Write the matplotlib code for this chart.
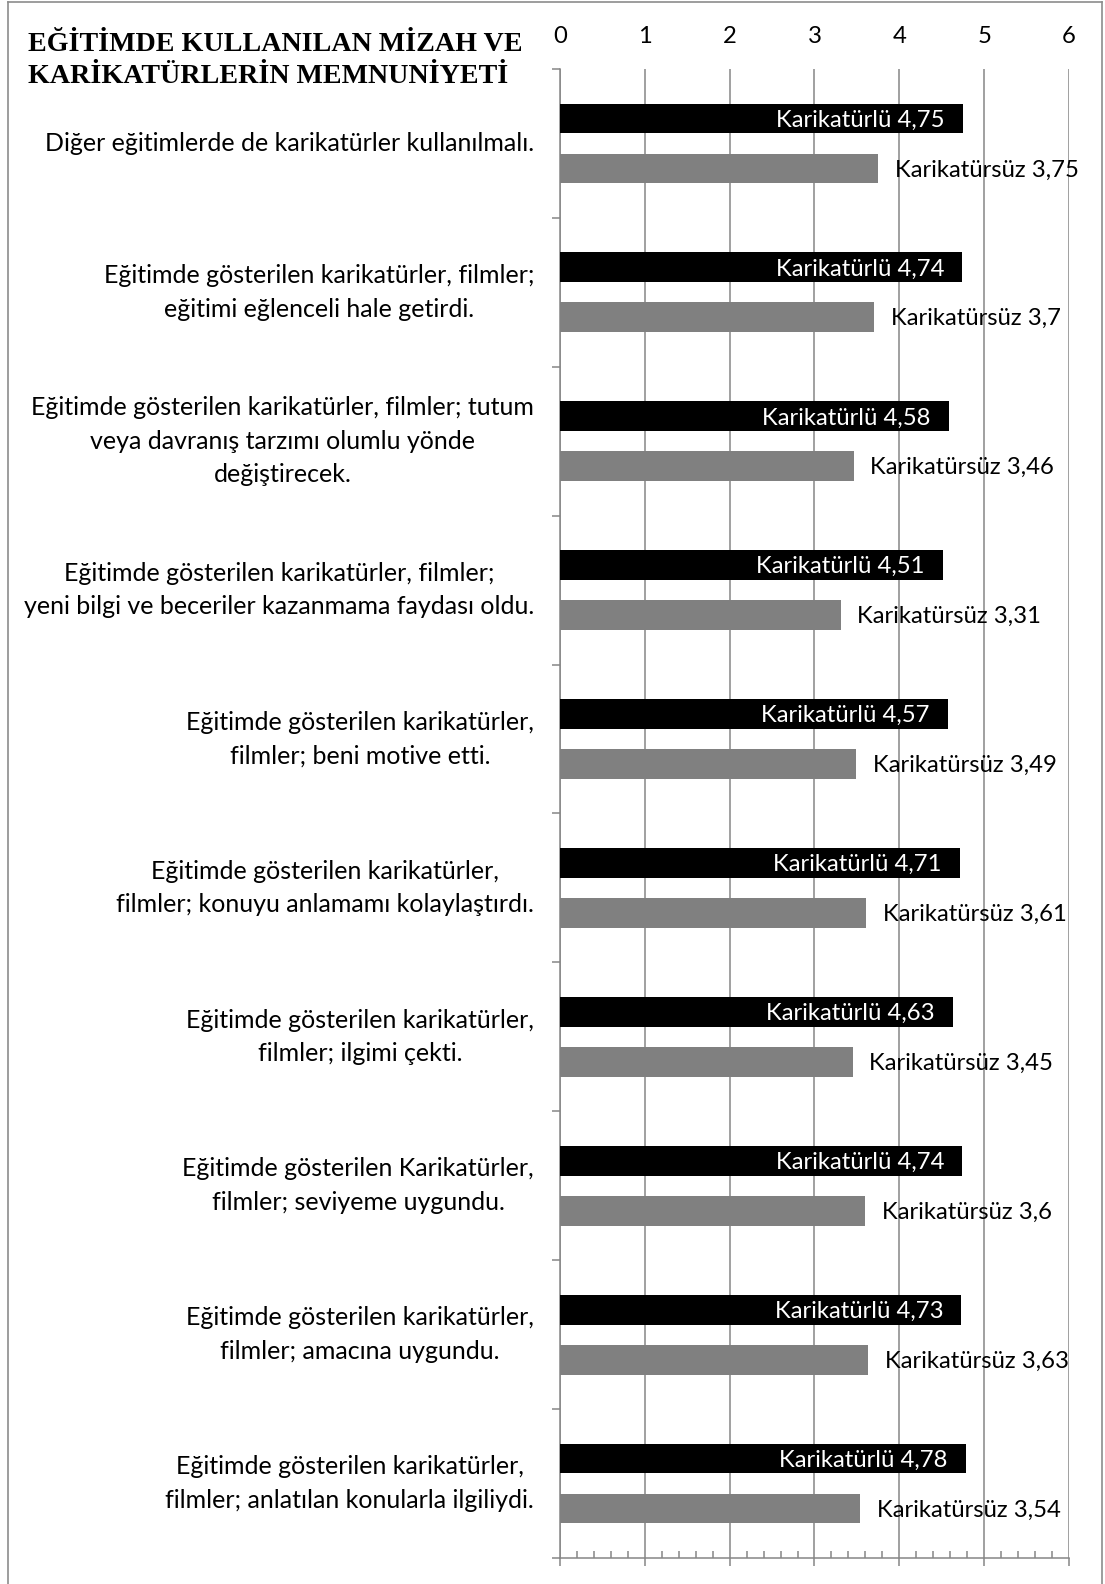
import numpy as np
import matplotlib as mpl

mpl.use("Agg")
import matplotlib.pyplot as plt
from matplotlib.lines import Line2D
from matplotlib.ticker import MultipleLocator

# survey statements, top to bottom
statements = [
    "Diğer eğitimlerde de karikatürler kullanılmalı.",
    "Eğitimde gösterilen karikatürler, filmler;\neğitimi eğlenceli hale getirdi.",
    "Eğitimde gösterilen karikatürler, filmler; tutum\nveya davranış tarzımı olumlu yönde\ndeğiştirecek.",
    "Eğitimde gösterilen karikatürler, filmler;\nyeni bilgi ve beceriler kazanmama faydası oldu.",
    "Eğitimde gösterilen karikatürler,\nfilmler; beni motive etti.",
    "Eğitimde gösterilen karikatürler,\nfilmler; konuyu anlamamı kolaylaştırdı.",
    "Eğitimde gösterilen karikatürler,\nfilmler; ilgimi çekti.",
    "Eğitimde gösterilen Karikatürler,\nfilmler; seviyeme uygundu.",
    "Eğitimde gösterilen karikatürler,\nfilmler; amacına uygundu.",
    "Eğitimde gösterilen karikatürler,\nfilmler; anlatılan konularla ilgiliydi.",
]
karikaturlu = [4.75, 4.74, 4.58, 4.51, 4.57, 4.71, 4.63, 4.74, 4.73, 4.78]
karikatursuz = [3.75, 3.7, 3.46, 3.31, 3.49, 3.61, 3.45, 3.6, 3.63, 3.54]
x_ticks = [0, 1, 2, 3, 4, 5, 6]
title_lines = ["EĞİTİMDE KULLANILAN MİZAH VE", "KARİKATÜRLERİN MEMNUNİYETİ"]

W, H, DPI = 1105, 1584, 100
GRID = "#868686"
FS = 17.2

plt.rcParams["font.family"] = ["Lato", "DejaVu Sans"]


def fmt(v):
    return f"{v:g}".replace(".", ",")


fig = plt.figure(figsize=(W / DPI, H / DPI), dpi=DPI)
ax = fig.add_axes([560 / W, 1 - 1558 / H, 509 / W, 1489 / H])

y = np.arange(len(statements))
bh, off = 0.2, 0.168

ax.barh(y - off, karikaturlu, height=bh, color="black", zorder=3)
ax.barh(y + off, karikatursuz, height=bh, color="#808080", zorder=3)

for yi, v in zip(y, karikaturlu):
    ax.annotate(f"Karikatürlü {fmt(v)}", (v, yi - off), xytext=(-13, -1.2),
                textcoords="offset points", ha="right", va="center",
                color="white", fontsize=FS, zorder=4)
for yi, v in zip(y, karikatursuz):
    ax.annotate(f"Karikatürsüz {fmt(v)}", (v, yi + off), xytext=(12, -1),
                textcoords="offset points", ha="left", va="center",
                color="black", fontsize=FS, zorder=4)

ax.set_xlim(0, 6)
ax.set_ylim(len(statements) - 0.5, -0.5)
ax.set_xticks(x_ticks)
ax.xaxis.set_minor_locator(MultipleLocator(0.2))
ax.tick_params(axis="x", which="major", top=False, bottom=True,
               labeltop=True, labelbottom=False, direction="out",
               length=5.5, width=1.1, color=GRID, labelsize=FS, pad=10)
ax.tick_params(axis="x", which="minor", top=False, bottom=True,
               direction="in", length=5, width=1.1, color=GRID)
ax.set_yticks(np.arange(-0.5, len(statements), 1))
ax.set_yticklabels([])
ax.tick_params(axis="y", which="major", direction="out", length=5.5,
               width=1.1, color=GRID)

ax.grid(axis="x", color=GRID, linewidth=1.1)
ax.set_axisbelow(True)
for s in ("top", "right"):
    ax.spines[s].set_visible(False)
for s in ("left", "bottom"):
    ax.spines[s].set_color(GRID)
    ax.spines[s].set_linewidth(1.1)

# statement labels, block right-aligned left of the axis, lines centred
for yi, s in zip(y, statements):
    ax.text(-26 / 509, yi, s, transform=ax.get_yaxis_transform(),
            ha="right", va="center", multialignment="center",
            fontsize=18, linespacing=1.56)

for i, line in enumerate(title_lines):
    fig.text(28 / W, 1 - (51 + 32 * i) / H, line, ha="left", va="baseline",
             fontsize=20.2, fontweight="bold", family="Liberation Serif")

# thin page frame
frame = dict(color="#8c8c8c", linewidth=1.2, transform=fig.transFigure)
fig.add_artist(Line2D([8 / W, 8 / W], [0, 1 - 1.5 / H], **frame))
fig.add_artist(Line2D([8 / W, 1102 / W], [1 - 1.5 / H, 1 - 1.5 / H], **frame))
fig.add_artist(Line2D([1102 / W, 1102 / W], [0, 1 - 1.5 / H], **frame))

fig.savefig("out.png", dpi=DPI)
